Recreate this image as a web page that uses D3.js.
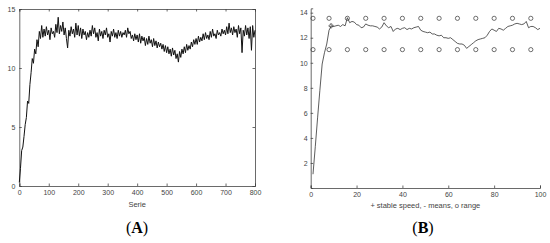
<!DOCTYPE html>
<html>
<head>
<meta charset="utf-8">
<script src="https://cdn.jsdelivr.net/npm/d3@7"></script>
<style>
  body { margin: 0; background: #fff; }
  svg { display: block; }
  .tick text { font-family: "Liberation Sans", Arial, sans-serif; font-size: 7px; fill: #444; }
  .lbl { font-family: "Liberation Sans", Arial, sans-serif; font-size: 7.5px; fill: #444; }
  .panel { font-family: "Liberation Serif", "Times New Roman", serif; font-size: 16px; fill: #000; }
</style>
</head>
<body>
<div id="chart"></div>
<script>
// panel A: speed per serie, sampled every 4 series
const serieStep = 4;
const serieValues = [
  0.3, 1.5, 3.0, 3.3, 4.2, 5.2, 5.8, 7.2, 7.0, 8.6,
  9.6, 10.8, 10.4, 11.6, 11.2, 12.4, 11.8, 13.1, 12.5, 13.6,
  12.6, 13.3, 12.7, 13.5, 12.8, 13.2, 12.4, 13.4, 12.9, 13.1,
  12.6, 13.7, 13.0, 14.3, 12.9, 13.6, 13.1, 13.9, 12.8, 13.4,
  12.5, 11.7, 13.2, 12.7, 13.5, 12.9, 13.3, 12.6, 13.8, 12.8,
  13.6, 12.7, 13.4, 12.5, 13.3, 12.8, 13.1, 12.4, 13.0, 12.6,
  13.2, 12.7, 13.6, 12.9, 13.4, 12.6, 13.0, 12.3, 13.3, 12.7,
  13.1, 12.5, 13.2, 12.8, 13.4, 12.6, 12.9, 12.2, 13.1, 12.7,
  13.3, 12.6, 13.0, 12.5, 13.2, 12.7, 13.1, 12.6, 13.0, 12.8,
  13.2, 12.6, 13.4, 12.9, 13.1, 12.5, 12.8, 12.3, 12.9, 12.4,
  12.8, 12.2, 12.9, 12.1, 12.7, 12.3, 12.6, 11.9, 12.5, 12.0,
  12.7, 12.1, 12.4, 11.8, 12.5, 11.9, 12.3, 11.7, 12.2, 11.8,
  12.1, 11.6, 12.0, 11.4, 11.9, 11.3, 11.8, 11.2, 11.6, 11.0,
  11.7, 11.1, 11.5, 10.8, 11.2, 10.5, 11.4, 10.9, 11.6, 11.2,
  11.8, 11.3, 12.0, 11.5, 11.9, 11.6, 12.2, 11.8, 12.4, 12.0,
  12.5, 12.0, 12.7, 12.2, 12.6, 12.3, 12.9, 12.4, 13.0, 12.5,
  12.8, 12.4, 13.1, 12.6, 13.3, 12.7, 12.9, 12.5, 13.2, 12.8,
  13.0, 12.7, 13.3, 12.9, 13.2, 12.8, 13.5, 12.9, 13.8, 13.0,
  13.4, 12.8, 13.5, 13.0, 13.3, 12.6, 13.6, 12.9, 13.4, 11.3,
  13.2, 12.7, 13.6, 12.8, 13.4, 12.5, 13.5, 11.5, 13.6, 12.6,
  13.2
];
const serieTicksX = [0, 100, 200, 300, 400, 500, 600, 700, 800];
const serieTicksY = [0, 5, 10, 15];

// panel B: means per block, stable speed, range
const meanValues = [
  1.1, 3.3, 5.6, 7.8, 9.9, 10.8, 11.5, 12.6, 12.95, 12.9,
  12.95, 13.0, 12.9, 13.05, 12.95, 13.6, 13.2, 13.3, 13.25, 13.05,
  13.0, 12.8, 12.85, 13.1, 13.0, 12.95, 12.95, 12.9, 12.85, 12.7,
  12.85, 13.2, 12.95, 12.8, 12.9, 12.5, 12.7, 12.75, 12.65, 12.75,
  12.8, 12.65, 12.75, 12.7, 12.8, 12.85, 12.9, 12.6, 12.5, 12.45,
  12.4, 12.45, 12.3, 12.3, 12.2, 12.15, 12.2, 12.0, 12.0, 11.95,
  12.0, 11.85, 11.7, 11.55, 11.5, 11.5, 11.4, 11.15, 11.3, 11.45,
  11.6, 11.75, 11.85, 11.9, 11.95, 12.0, 12.2, 12.5, 12.7, 12.6,
  12.5, 12.75, 12.7, 12.6, 12.75, 12.9, 12.95, 13.0, 13.1, 13.15,
  13.1, 13.05, 13.1, 13.3, 12.8, 12.9, 12.9, 12.8, 12.65, 12.75
];
const stablePoint = [8.9, 12.95];
const rangeX = [1, 8, 16, 24, 32, 40, 48, 56, 64, 72, 80, 88, 96];
const rangeHigh = 13.55;
const rangeLow = 11.05;
const meanTicksX = [0, 20, 40, 60, 80, 100];
const meanTicksY = [2, 4, 6, 8, 10, 12, 14];

const svg = d3.select("#chart").append("svg")
  .attr("width", 550)
  .attr("height", 243);

const axisColor = "#444";

function styleAxis(g) {
  g.select(".domain").attr("stroke", axisColor).attr("stroke-width", 0.8);
  g.selectAll(".tick line").attr("stroke", axisColor).attr("stroke-width", 0.8);
}

// ---------- panel A ----------
const xA = d3.scaleLinear().domain([0, 800]).range([19.3, 255]);
const yA = d3.scaleLinear().domain([0, 15]).range([186, 9]);

const gA = svg.append("g");

gA.append("g")
  .attr("transform", `translate(0,${yA(0)})`)
  .call(d3.axisBottom(xA).tickValues(serieTicksX).tickSize(-2.5).tickPadding(4).tickFormat(d3.format("d")))
  .call(styleAxis);
gA.append("g")
  .attr("transform", `translate(${xA(0)},0)`)
  .call(d3.axisLeft(yA).tickValues(serieTicksY).tickSize(-2.5).tickPadding(4).tickFormat(d3.format("d")))
  .call(styleAxis);
// box: top and right
gA.append("g")
  .attr("transform", `translate(0,${yA(15)})`)
  .call(d3.axisTop(xA).tickValues(serieTicksX).tickSize(-2.5).tickFormat(""))
  .call(styleAxis);
gA.append("g")
  .attr("transform", `translate(${xA(800)},0)`)
  .call(d3.axisRight(yA).tickValues(serieTicksY).tickSize(-2.5).tickFormat(""))
  .call(styleAxis);

const lineA = d3.line()
  .x((d, i) => xA(Math.min(i * serieStep, 800)))
  .y(d => yA(d));

gA.append("path")
  .datum(serieValues)
  .attr("fill", "none")
  .attr("stroke", "#111")
  .attr("stroke-width", 1.0)
  .attr("d", lineA);

gA.append("text")
  .attr("class", "lbl")
  .attr("x", (xA(0) + xA(800)) / 2)
  .attr("y", 207)
  .attr("text-anchor", "middle")
  .text("Serie");

gA.append("text")
  .attr("class", "panel")
  .attr("x", 137)
  .attr("y", 233)
  .attr("text-anchor", "middle")
  .html('(<tspan font-weight="bold">A</tspan>)');

// ---------- panel B ----------
const xB = d3.scaleLinear().domain([0, 100]).range([310.7, 540]);
const yB = d3.scaleLinear().domain([0, 14.35]).range([188, 8.3]);

const gB = svg.append("g");

gB.append("g")
  .attr("transform", `translate(0,${yB(0)})`)
  .call(d3.axisBottom(xB).tickValues(meanTicksX).tickSize(-2.5).tickPadding(4).tickFormat(d3.format("d")))
  .call(styleAxis);
gB.append("g")
  .attr("transform", `translate(${xB(0)},0)`)
  .call(d3.axisLeft(yB).tickValues(meanTicksY).tickSize(-2.5).tickPadding(3).tickFormat(d3.format("d")))
  .call(styleAxis);

const lineB = d3.line()
  .x((d, i) => xB(i + 1))
  .y(d => yB(d));

gB.append("path")
  .datum(meanValues)
  .attr("fill", "none")
  .attr("stroke", "#333")
  .attr("stroke-width", 0.8)
  .attr("d", lineB);

// range circles
[rangeHigh, rangeLow].forEach(v => {
  gB.selectAll(null)
    .data(rangeX)
    .enter().append("circle")
    .attr("cx", d => xB(d))
    .attr("cy", yB(v))
    .attr("r", 2.1)
    .attr("fill", "none")
    .attr("stroke", "#333")
    .attr("stroke-width", 0.7);
});

// stable speed marker
gB.append("path")
  .attr("transform", `translate(${xB(stablePoint[0])},${yB(stablePoint[1])})`)
  .attr("d", d3.symbol(d3.symbolCross, 10)())
  .attr("fill", "none")
  .attr("stroke", "#333")
  .attr("stroke-width", 0.6);

gB.append("text")
  .attr("class", "lbl")
  .attr("x", (xB(0) + xB(100)) / 2)
  .attr("y", 208)
  .attr("text-anchor", "middle")
  .text("+ stable speed, - means, o range");

gB.append("text")
  .attr("class", "panel")
  .attr("x", 423)
  .attr("y", 233)
  .attr("text-anchor", "middle")
  .html('(<tspan font-weight="bold">B</tspan>)');
</script>
</body>
</html>
